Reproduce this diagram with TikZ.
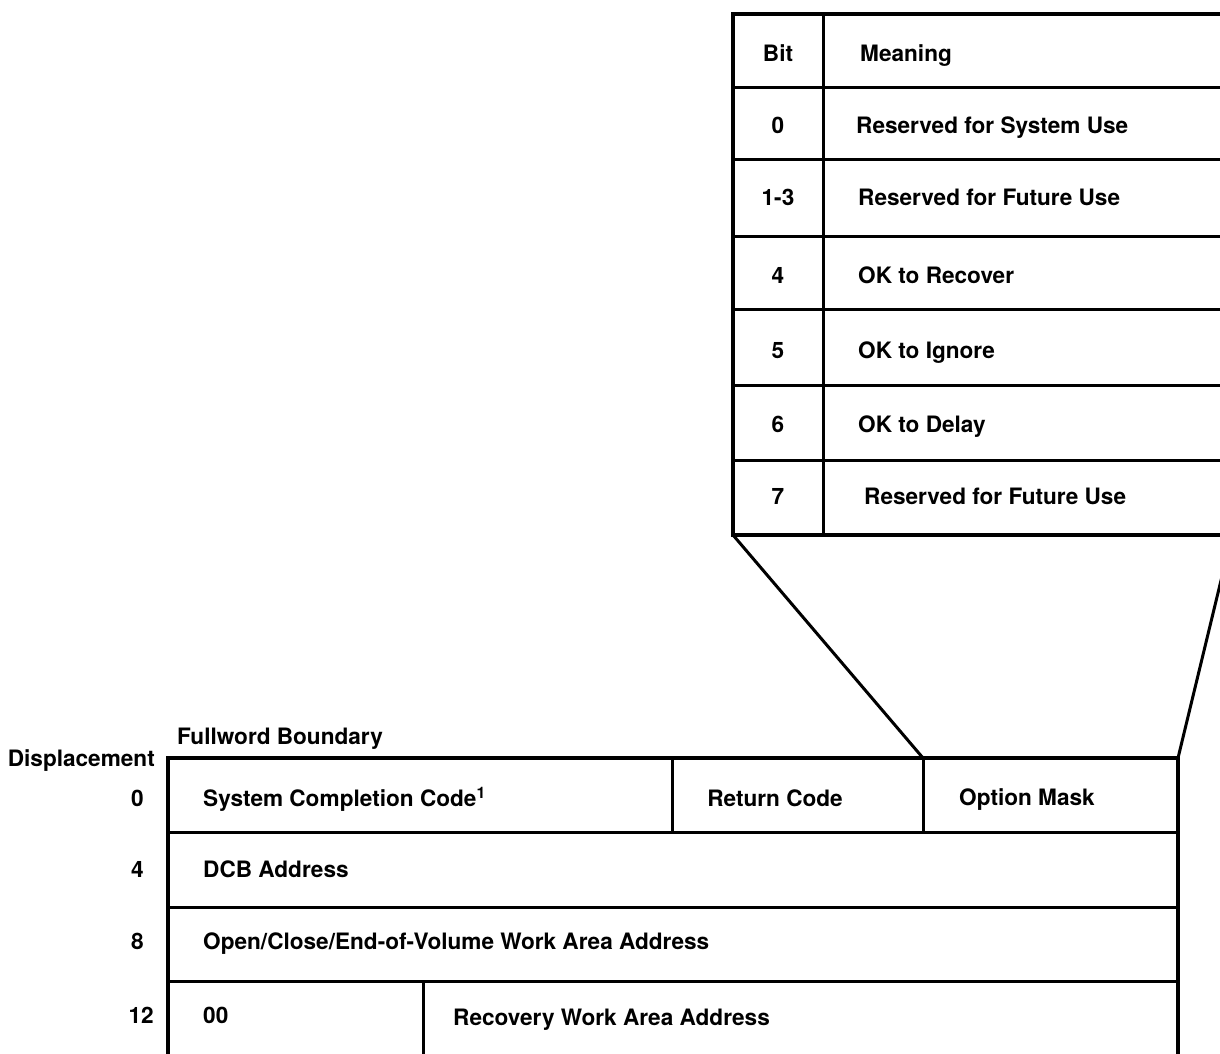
\documentclass[tikz,border=0pt]{standalone}
\usepackage{fontspec}
\setmainfont{TeX Gyre Heros}
\begin{document}
\begin{tikzpicture}[x=1pt,y=-1pt,
  ln/.style={line width=3.4pt, line cap=rect},
  thin/.style={line width=3pt},
  lbl/.style={font=\fontsize{22.6}{26}\selectfont\bfseries, inner sep=0pt, anchor=base west},
  ctr/.style={font=\fontsize{22.6}{26}\selectfont\bfseries, inner sep=0pt, anchor=base},
  num/.style={font=\fontsize{22.6}{26}\selectfont\bfseries, inner sep=0pt, anchor=base east}]
\useasboundingbox (0,0) rectangle (1220,1053);
\clip (0,0) rectangle (1220,1053);
% ---------- top table ----------
\coordinate (tTL) at (733,14);
\coordinate (tBL) at (733,535);
\coordinate (tBR) at (1232,535);
\draw[ln] (1240,14) -- (733,14) -- (733,535) -- (1240,535);
\draw[thin] (823,14) -- (823,535);
\foreach \yy in {87,159,236,309,385,460}
  \draw[thin] (733,\yy) -- (1240,\yy);
\node[ctr] (hb) at (778,61) {Bit};
\node[lbl] (hm) at (860,61) {Meaning};
\node[ctr] (b0) at (778,133) {0};
\node[lbl] (m0) at (856,133) {Reserved for System Use};
\node[ctr] (b1) at (778,205) {1-3};
\node[lbl] (m1) at (858,205) {Reserved for Future Use};
\node[ctr] (b4) at (778,283) {4};
\node[lbl] (m4) at (858,283) {OK to Recover};
\node[ctr] (b5) at (778,358) {5};
\node[lbl] (m5) at (858,358) {OK to Ignore};
\node[ctr] (b6) at (778,432) {6};
\node[lbl] (m6) at (858,432) {OK to Delay};
\node[ctr] (b7) at (778,504) {7};
\node[lbl] (m7) at (864,504) {Reserved for Future Use};
% ---------- bottom table ----------
\coordinate (oTL) at (923,758);
\coordinate (oTR) at (1178,758);
\draw[ln] (168,1060) -- (168,758) -- (1178,758) -- (1178,1060);
\foreach \yy in {832,907,981}
  \draw[thin] (168,\yy) -- (1178,\yy);
\draw[thin] (672,758) -- (672,832);
\draw[thin] (923,758) -- (923,832);
\draw[thin] (423,981) -- (423,1060);
\node[num] (disp) at (155,766) {Displacement};
\node[lbl] (fw) at (177,744) {Fullword Boundary};
\node[num] (d0) at (144,806) {0};
\node[num] (d4) at (144,877) {4};
\node[num] (d8) at (144,949) {8};
\node[num] (d12) at (154,1023) {12};
\node[lbl] (scc) at (203,806) {System Completion Code\textsuperscript{1}};
\node[ctr] (rc) at (775,806) {Return Code};
\node[lbl] (om) at (959,805) {Option Mask};
\node[lbl] (dcb) at (203,877) {DCB Address};
\node[lbl] (oce) at (203,949) {Open/Close/End-of-Volume Work Area Address};
\node[lbl] (z) at (203,1023) {00};
\node[lbl] (rwa) at (453,1025) {Recovery Work Area Address};
% ---------- expansion lines ----------
\draw[thin] (tBL) -- (oTL);
\draw[thin] (tBR) -- (oTR);
\end{tikzpicture}
\end{document}
